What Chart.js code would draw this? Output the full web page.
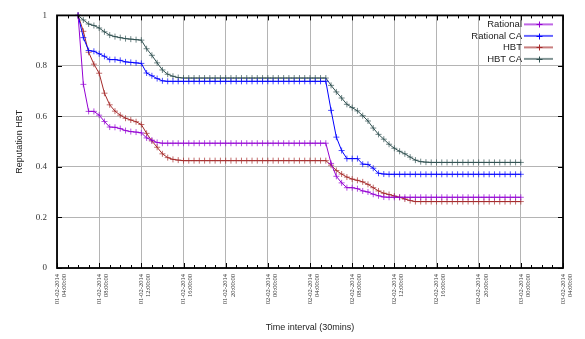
<!DOCTYPE html>
<html>
<head>
<meta charset="utf-8">
<script src="https://cdn.jsdelivr.net/npm/chart.js@4.4.0/dist/chart.umd.min.js"></script>
<style>
  html, body { margin: 0; padding: 0; background: #fff; }
</style>
</head>
<body>
<canvas id="chart" width="585" height="339"></canvas>
<script>
// x axis is counted in 30 minute slots from 01-02-2014 04:00:00
const startSlot = 4; // first sample at 06:00:00
const tickLabels = [
  ["01-02-2014", "04:00:00"], ["01-02-2014", "08:00:00"], ["01-02-2014", "12:00:00"],
  ["01-02-2014", "16:00:00"], ["01-02-2014", "20:00:00"], ["02-02-2014", "00:00:00"],
  ["02-02-2014", "04:00:00"], ["02-02-2014", "08:00:00"], ["02-02-2014", "12:00:00"],
  ["02-02-2014", "16:00:00"], ["02-02-2014", "20:00:00"], ["03-02-2014", "00:00:00"],
  ["03-02-2014", "04:00:00"],
];
const yTickLabels = ["0", "0.2", "0.4", "0.6", "0.8", "1"];

const seriesNames = ["Rational", "Rational CA", "HBT", "HBT CA"];
const seriesColors = ["#9400d3", "#0000ff", "#a52a2a", "#2f4f4f"];

const rational = [
  1.0, 0.727, 0.62, 0.62, 0.605, 0.58, 0.558, 0.557, 0.552, 0.544,
  0.54, 0.538, 0.535, 0.515, 0.506, 0.497, 0.494, 0.494, 0.494, 0.494,
  0.494, 0.494, 0.494, 0.494, 0.494, 0.494, 0.494, 0.494, 0.494, 0.494,
  0.494, 0.494, 0.494, 0.494, 0.494, 0.494, 0.494, 0.494, 0.494, 0.494,
  0.494, 0.494, 0.494, 0.494, 0.494, 0.494, 0.494, 0.494, 0.414, 0.363,
  0.337, 0.318, 0.318, 0.314, 0.305, 0.301, 0.292, 0.286, 0.281, 0.28,
  0.28, 0.28, 0.28, 0.28, 0.28, 0.28, 0.28, 0.28, 0.28, 0.28,
  0.28, 0.28, 0.28, 0.28, 0.28, 0.28, 0.28, 0.28, 0.28, 0.28,
  0.28, 0.28, 0.28, 0.28, 0.28,
];
const rationalCA = [
  1.0, 0.912, 0.861, 0.858, 0.848, 0.838, 0.825, 0.825, 0.822, 0.816,
  0.814, 0.812, 0.81, 0.772, 0.761, 0.75, 0.741, 0.739, 0.739, 0.739,
  0.739, 0.739, 0.739, 0.739, 0.739, 0.739, 0.739, 0.739, 0.739, 0.739,
  0.739, 0.739, 0.739, 0.739, 0.739, 0.739, 0.739, 0.739, 0.739, 0.739,
  0.739, 0.739, 0.739, 0.739, 0.739, 0.739, 0.739, 0.739, 0.624, 0.518,
  0.465, 0.433, 0.433, 0.433, 0.411, 0.41, 0.395, 0.375, 0.372, 0.371,
  0.371, 0.371, 0.371, 0.371, 0.371, 0.371, 0.371, 0.371, 0.371, 0.371,
  0.371, 0.371, 0.371, 0.371, 0.371, 0.371, 0.371, 0.371, 0.371, 0.371,
  0.371, 0.371, 0.371, 0.371, 0.371,
];
const hbt = [
  1.0, 0.937, 0.854, 0.807, 0.771, 0.692, 0.646, 0.621, 0.605, 0.593,
  0.586, 0.579, 0.568, 0.533, 0.503, 0.478, 0.452, 0.437, 0.43, 0.427,
  0.425, 0.425, 0.425, 0.425, 0.425, 0.425, 0.425, 0.425, 0.425, 0.425,
  0.425, 0.425, 0.425, 0.425, 0.425, 0.425, 0.425, 0.425, 0.425, 0.425,
  0.425, 0.425, 0.425, 0.425, 0.425, 0.425, 0.425, 0.425, 0.407, 0.386,
  0.372, 0.36, 0.352, 0.347, 0.341, 0.331, 0.318, 0.305, 0.296, 0.291,
  0.285, 0.28, 0.273, 0.267, 0.263, 0.263, 0.263, 0.263, 0.263, 0.263,
  0.263, 0.263, 0.263, 0.263, 0.263, 0.263, 0.263, 0.263, 0.263, 0.263,
  0.263, 0.263, 0.263, 0.263, 0.263,
];
const hbtCA = [
  1.0, 0.982, 0.966, 0.96, 0.95, 0.935, 0.922, 0.916, 0.912, 0.908,
  0.906, 0.904, 0.902, 0.868, 0.842, 0.812, 0.784, 0.767, 0.759, 0.754,
  0.752, 0.752, 0.752, 0.752, 0.752, 0.752, 0.752, 0.752, 0.752, 0.752,
  0.752, 0.752, 0.752, 0.752, 0.752, 0.752, 0.752, 0.752, 0.752, 0.752,
  0.752, 0.752, 0.752, 0.752, 0.752, 0.752, 0.752, 0.752, 0.723, 0.697,
  0.673, 0.648, 0.635, 0.622, 0.603, 0.582, 0.554, 0.529, 0.51, 0.49,
  0.474, 0.462, 0.452, 0.439, 0.427, 0.421, 0.419, 0.418, 0.418, 0.418,
  0.418, 0.418, 0.418, 0.418, 0.418, 0.418, 0.418, 0.418, 0.418, 0.418,
  0.418, 0.418, 0.418, 0.418, 0.418,
];

const toPoints = (vals) => vals.map((y, i) => ({ x: startSlot + i, y }));

const makeDataset = (label, color, vals) => ({
  label,
  data: toPoints(vals),
  borderColor: color,
  backgroundColor: color,
  borderWidth: 1,
  pointStyle: "cross",
  pointRadius: 3,
  pointBorderWidth: 1,
  pointBorderColor: color + "b0",
  tension: 0,
  clip: false,
});

// --- frame, inward ticks and gnuplot style legend ---
const frame = {
  id: "frame",
  afterDraw(chart) {
    const { ctx, chartArea: a, scales } = chart;
    ctx.save();
    ctx.strokeStyle = "#000";
    ctx.lineWidth = 1;
    ctx.beginPath();
    for (let v = 0; v <= 96; v += 2) {
      const px = Math.round(scales.x.getPixelForValue(v)) + 0.5;
      const len = v % 8 === 0 ? 5 : 3;
      ctx.moveTo(px, a.bottom); ctx.lineTo(px, a.bottom - len);
      ctx.moveTo(px, a.top); ctx.lineTo(px, a.top + len);
    }
    for (let i = 0; i < yTickLabels.length; i++) {
      const py = Math.round(scales.y.getPixelForValue(i * 0.2)) + 0.5;
      ctx.moveTo(a.left, py); ctx.lineTo(a.left + 5, py);
      ctx.moveTo(a.right, py); ctx.lineTo(a.right - 5, py);
    }
    ctx.stroke();
    ctx.lineWidth = 1.8;
    ctx.strokeRect(a.left, a.top, a.right - a.left, a.bottom - a.top);

    ctx.font = "9.5px 'Liberation Sans', Arial, sans-serif";
    ctx.textAlign = "right";
    ctx.textBaseline = "middle";
    chart.data.datasets.forEach((ds, i) => {
      const y = a.top + 9 + i * 11.5;
      const x0 = a.right - 39;
      ctx.fillStyle = "#222";
      ctx.fillText(ds.label, a.right - 41, y);
      ctx.strokeStyle = ds.borderColor + "99";
      ctx.lineWidth = 2;
      ctx.beginPath();
      ctx.moveTo(x0, y); ctx.lineTo(a.right - 10, y);
      ctx.stroke();
      ctx.strokeStyle = ds.borderColor;
      ctx.lineWidth = 1;
      const mx = Math.round(a.right - 24) + 0.5, my = Math.round(y) + 0.5;
      ctx.beginPath();
      ctx.moveTo(mx - 3, my); ctx.lineTo(mx + 3, my);
      ctx.moveTo(mx, my - 3); ctx.lineTo(mx, my + 3);
      ctx.stroke();
    });
    ctx.restore();
  },
};

const gridGray = "#b4b4b4";

new Chart(document.getElementById("chart"), {
  type: "line",
  data: {
    datasets: [
      makeDataset(seriesNames[0], seriesColors[0], rational),
      makeDataset(seriesNames[1], seriesColors[1], rationalCA),
      makeDataset(seriesNames[2], seriesColors[2], hbt),
      makeDataset(seriesNames[3], seriesColors[3], hbtCA),
    ],
  },
  options: {
    responsive: false,
    animation: false,
    devicePixelRatio: 1,
    layout: { padding: { top: 7, right: 22, bottom: 6, left: 14 } },
    plugins: { legend: { display: false }, tooltip: { enabled: false } },
    scales: {
      x: {
        type: "linear",
        min: 0,
        max: 96,
        afterFit: (scale) => { scale.height = 65; },
        grid: {
          drawTicks: false,
          color: (c) => (c.tick && c.tick.value % 8 === 0 ? gridGray : "rgba(0,0,0,0)"),
          lineWidth: 1,
        },
        border: { display: false },
        ticks: {
          stepSize: 2,
          autoSkip: false,
          maxRotation: 90,
          minRotation: 90,
          padding: 6,
          color: "#333",
          font: { family: "'Liberation Serif', 'Times New Roman', serif", size: 6.5, lineHeight: 1.1 },
          callback: (v) => (v % 8 === 0 ? tickLabels[v / 8] : ""),
        },
        title: {
          display: true,
          text: "Time interval (30mins)",
          color: "#222",
          padding: 0,
          font: { family: "'Liberation Sans', Arial, sans-serif", size: 9 },
        },
      },
      y: {
        min: 0,
        max: 1,
        afterFit: (scale) => { scale.width = 43; },
        grid: { drawTicks: false, color: gridGray, lineWidth: 1 },
        border: { display: false },
        ticks: {
          stepSize: 0.2,
          padding: 10,
          color: "#333",
          font: { family: "'Liberation Serif', 'Times New Roman', serif", size: 9 },
          callback: (v, i) => yTickLabels[i],
        },
        title: {
          display: true,
          text: "Reputation HBT",
          color: "#222",
          padding: 0,
          font: { family: "'Liberation Sans', Arial, sans-serif", size: 9 },
        },
      },
    },
  },
  plugins: [frame],
});
</script>
</body>
</html>
